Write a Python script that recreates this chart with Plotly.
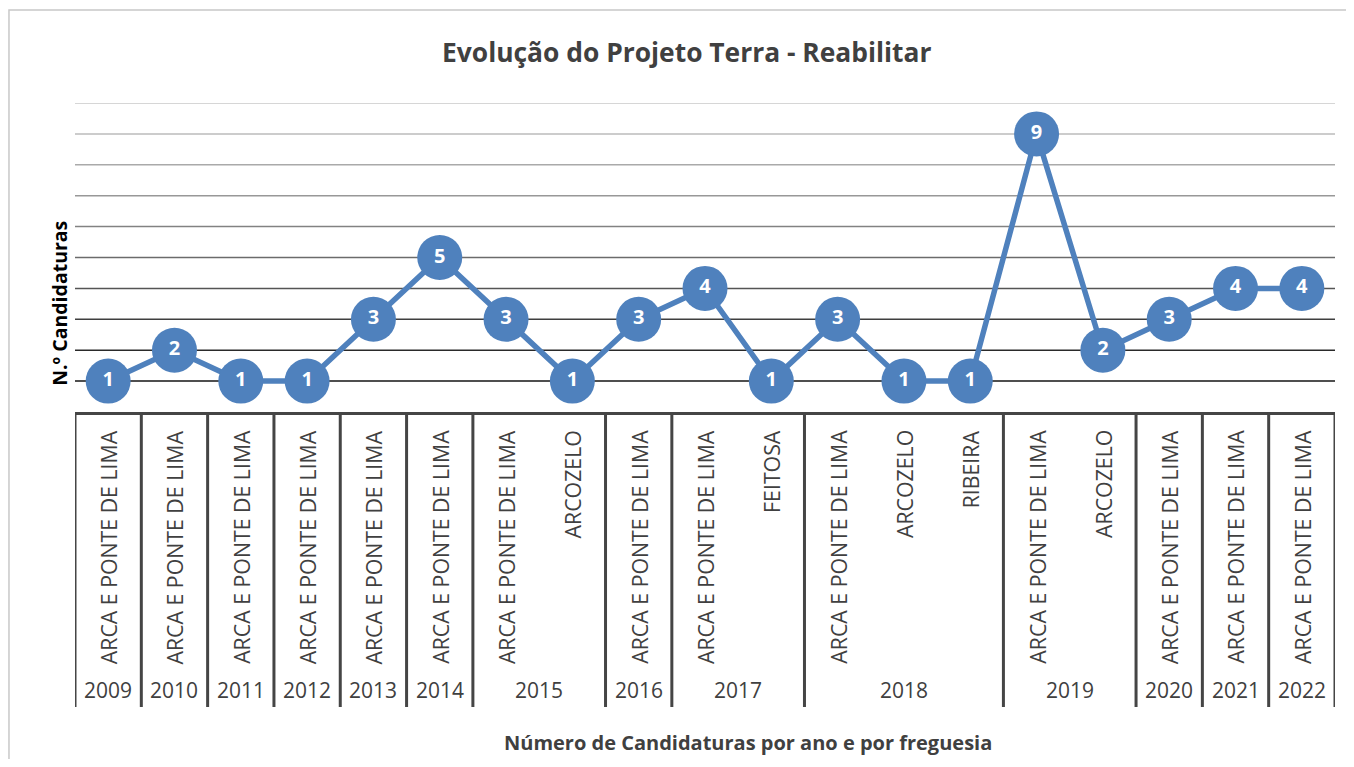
import plotly.graph_objects as go

# ---- data ----
years = ["2009", "2010", "2011", "2012", "2013", "2014", "2015", "2015", "2016", "2017", "2017",
         "2018", "2018", "2018", "2019", "2019", "2020", "2021", "2022"]
freguesias = ["ARCA E PONTE DE LIMA", "ARCA E PONTE DE LIMA", "ARCA E PONTE DE LIMA",
              "ARCA E PONTE DE LIMA", "ARCA E PONTE DE LIMA", "ARCA E PONTE DE LIMA",
              "ARCA E PONTE DE LIMA", "ARCOZELO", "ARCA E PONTE DE LIMA",
              "ARCA E PONTE DE LIMA", "FEITOSA", "ARCA E PONTE DE LIMA", "ARCOZELO", "RIBEIRA",
              "ARCA E PONTE DE LIMA", "ARCOZELO", "ARCA E PONTE DE LIMA",
              "ARCA E PONTE DE LIMA", "ARCA E PONTE DE LIMA"]
values = [1, 2, 1, 1, 3, 5, 3, 1, 3, 4, 1, 3, 1, 1, 9, 2, 3, 4, 4]
y_ticks = [1, 2, 3, 4, 5, 6, 7, 8, 9, 10]

title = "Evolução do Projeto Terra - Reabilitar"
y_title = "N.º Candidaturas"
x_title = "Número de Candidaturas por ano e por freguesia"

BLUE = "#4f81bd"
TXT = "#404040"
FONT = "Open Sans"

idx = list(range(len(values)))

fig = go.Figure()
fig.add_trace(go.Scatter(
    x=idx, y=values, mode="lines+markers+text",
    line=dict(color=BLUE, width=5.5),
    marker=dict(size=45, color=BLUE, line=dict(width=0)),
    text=[str(v) for v in values], textposition="middle center",
    textfont=dict(family=FONT, size=20, color="white", weight="bold"),
    cliponaxis=False, hoverinfo="skip", showlegend=False,
))

shapes = []
# gridlines with gradient (light at top, dark at bottom)
grid_colors = ["#151515", "#2a2a2a", "#3f3f3f", "#555555", "#6b6b6b",
               "#828282", "#989898", "#aaaaaa", "#bbbbbb", "#c8c8c8"]
for v, c in zip(y_ticks, grid_colors):
    shapes.append(dict(type="line", xref="paper", yref="y", x0=0, x1=1, y0=v, y1=v,
                       line=dict(color=c, width=1.5), layer="below"))

# group boundaries
groups = []
for i, yr in enumerate(years):
    if groups and groups[-1][0] == yr:
        groups[-1][2] = i
    else:
        groups.append([yr, i, i])
bounds = [g[1] - 0.5 for g in groups] + [groups[-1][2] + 0.5]
for b in bounds:
    shapes.append(dict(type="line", xref="x", yref="paper", x0=b, x1=b, y0=0, y1=-0.955,
                       line=dict(color="#454545", width=3)))
# outer chart border
shapes.append(dict(type="rect", xref="paper", yref="paper", x0=-0.0524, x1=1.2, y0=-2, y1=1.301,
                   line=dict(color="#c8c8c8", width=1.5), fillcolor="rgba(0,0,0,0)"))

annotations = []
for i, f in enumerate(freguesias):
    annotations.append(dict(x=i, y=-0.052, xref="x", yref="paper", text=f, textangle=-90,
                            showarrow=False, xanchor="center", yanchor="top",
                            font=dict(family=FONT, size=21.3, color=TXT)))
for yr, a, b in groups:
    annotations.append(dict(x=(a + b) / 2, y=-0.90, xref="x", yref="paper", text=yr,
                            showarrow=False, xanchor="center", yanchor="middle",
                            font=dict(family=FONT, size=21, color=TXT)))
annotations.append(dict(x=0.4857, y=1.165, xref="paper", yref="paper", text=title,
                        showarrow=False, xanchor="center", yanchor="middle",
                        font=dict(family=FONT, size=26.4, color=TXT, weight="bold")))
annotations.append(dict(x=-0.012, y=0.353, xref="paper", yref="paper", text=y_title,
                        textangle=-90, showarrow=False, xanchor="center", yanchor="middle",
                        font=dict(family=FONT, size=19.5, color="#000000", weight="bold")))
annotations.append(dict(x=0.534, y=-1.071, xref="paper", yref="paper", text=x_title,
                        showarrow=False, xanchor="center", yanchor="middle",
                        font=dict(family=FONT, size=20, color=TXT, weight="bold")))

# page has an 8px body margin, so the figure is sized/offset to compensate (no scrollbars)
fig.update_layout(
    width=1338, height=751,
    margin=dict(l=67, r=11, t=95, b=347),
    paper_bgcolor="white", plot_bgcolor="white",
    xaxis=dict(range=[-0.5, len(values) - 0.5], showticklabels=False, showgrid=False,
               zeroline=False, showline=True, linecolor="#454545", linewidth=3, ticks=""),
    yaxis=dict(range=[0, 10], showticklabels=False, showgrid=False, zeroline=False,
               showline=False, ticks=""),
    shapes=shapes, annotations=annotations,
)

fig.write_html("out.html")
